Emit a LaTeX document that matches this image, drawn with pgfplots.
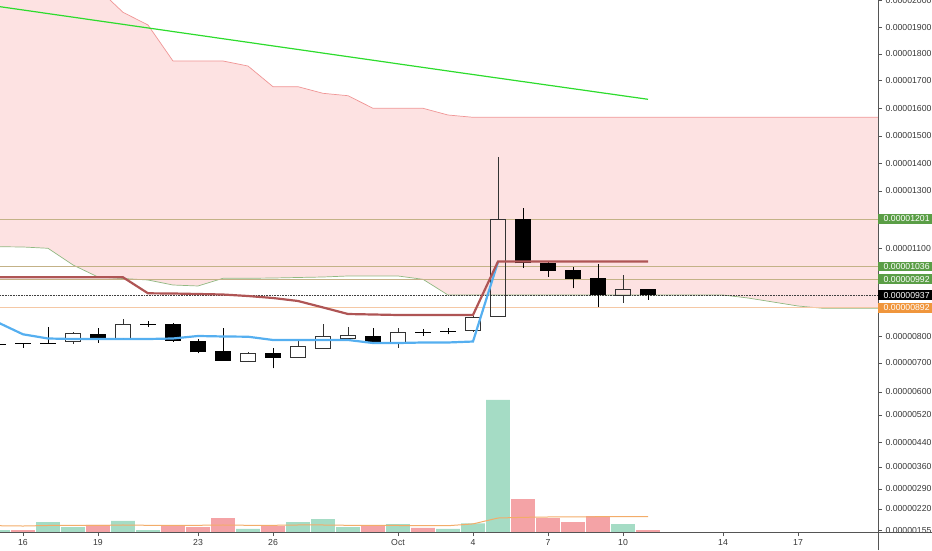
\documentclass[border=0pt]{standalone}
\usepackage{fontspec}
\setmainfont{Liberation Sans}
\usepackage{pgfplots}
\usepackage{pgfplotstable}
\pgfplotsset{compat=1.18}

\definecolor{cloud}{RGB}{253,226,226}
\definecolor{spanb}{RGB}{240,150,150}
\definecolor{spana}{RGB}{145,185,130}
\definecolor{hline}{RGB}{195,178,135}
\definecolor{orline}{RGB}{245,200,165}
\definecolor{maline}{RGB}{45,220,45}
\definecolor{tenkan}{RGB}{85,175,240}
\definecolor{kijun}{RGB}{175,85,85}
\definecolor{volg}{RGB}{165,220,197}
\definecolor{volr}{RGB}{244,163,166}
\definecolor{volma}{RGB}{243,172,105}
\definecolor{lblgreen}{RGB}{90,158,70}
\definecolor{lblorange}{RGB}{240,150,60}
\definecolor{axisgray}{RGB}{85,85,85}
\definecolor{txtgray}{RGB}{55,55,55}

% Ichimoku cloud: leading span B and leading span A
\pgfplotstableread{
X B A
15 2200 1104.8
16 2180 1103.8
17 2150 1099.3
18 2100 1041.3
19 2001 999.6
20 1918.7 994.4
21 1874.6 989.2
22 1749.6 971.8
23 1749.6 968.4
24 1749.6 995.1
25 1732.2 995.1
26 1660.4 996.1
27 1660.4 997.9
28 1637.4 999.6
29 1629.1 1003.1
30 1585.4 1003.1
31 1585.4 1003.1
32 1585.4 991.6
33 1562.1 937.1
34 1554.1 937.1
35 1554.1 937.1
36 1554.1 937.1
37 1554.1 937.1
38 1554.1 937.1
39 1554.1 937.1
40 1554.1 937.1
41 1554.1 937.1
42 1554.1 937.1
43 1554.1 937.1
44 1554.1 937.1
45 1554.1 926.7
46 1554.1 912.8
47 1554.1 898.9
48 1554.1 890.9
49 1554.1 890.9
50 1554.1 890.9
51 1554.1 890.9
}\cloudtab

% down candles
\pgfplotstableread{
X open high low close
15 767.7 772.2 761.8 766.3
16 770.0 771.1 753.1 768.6
17 772.0 827.0 767.0 770.6
19 800.6 821.5 771.5 786.7
21 837.2 847.9 827.0 835.6
22 836.4 838.8 775.0 778.4
23 778.4 784.3 734.7 738.1
24 742.6 821.5 708.0 708.0
26 734.7 752.0 682.6 719.4
30 794.8 821.5 769.4 769.4
32 807.0 817.9 794.8 805.6
33 810.5 821.5 800.6 809.0
36 1201 1238.1 1032.0 1047.0
37 1049.2 1055.2 1000.7 1020.4
38 1024.1 1036 960.4 992
39 995.1 1043.7 895 937.5
41 958.0 958.0 919.8 937
}\bears

% up candles (hollow)
\pgfplotstableread{
X open high low close
18 775.0 809.7 767.0 804.1
20 786.7 852.7 786.7 835.4
25 708.0 740.2 708.0 734.7
27 719.4 780.9 719.4 757.6
28 752.0 835.4 752.0 792.3
29 786.7 827.0 786.7 795.8
31 769.4 823.6 754.1 807.6
34 813.3 864.2 812.3 859.8
35 861.8 1417.3 861.8 1201
40 937.5 1006.6 910.4 957.0
}\bulls

\tikzset{
  lbl/.style={anchor=west, text=white, inner xsep=5.5pt, inner ysep=0pt,
     minimum height=9.6pt, font=\fontsize{8.7}{10}\selectfont},
}
\pgfplotsset{
  seg/.style={only marks, mark=none, mark size=0pt, mark options={draw=none, fill=none},
     error bars/.cd, y dir=plus, y explicit, error mark=none, error bar style={#1}},
  hseg/.style={only marks, mark=none, mark size=0pt, mark options={draw=none, fill=none},
     error bars/.cd, x dir=both, x explicit, error mark=none, error bar style={#1}},
}

\begin{document}
\begin{tikzpicture}
% ---------------- volume pane ----------------
\begin{axis}[
  at={(0pt,18pt)}, anchor=south west,
  scale only axis, width=878pt, height=532pt,
  xmin=15.08, xmax=50.2, ymin=148.39, ymax=1864.5,
  axis x line*=bottom, axis y line*=right,
  axis line style={draw=none,-},
  xtick=\empty,
  ytick={525.8,438.7,358.1,287.1,222.6,154.8},
  yticklabels={0.00000520,0.00000440,0.00000360,0.00000290,0.00000220,0.00000155},
  tick align=outside, major tick length=4pt,
  tick style={axisgray, line width=0.7pt},
  ticklabel style={font=\fontsize{8.7}{10}\selectfont, text=txtgray},
]
\addplot[ybar, bar shift=0pt, bar width=0.95, fill=volg, draw=none] coordinates {
(15,154.8) (17,180.6) (18,164.5) (20,183.9) (21,154.8) (25,158.1) (27,180.6)
(28,190.3) (29,164.5) (31,174.2) (33,158.5) (34,176.4) (35,574.2) (40,174.2)};
\addplot[ybar, bar shift=0pt, bar width=0.95, fill=volr, draw=none] coordinates {
(16,154.8) (19,171) (22,167.7) (23,164.5) (24,193.5) (26,167.7) (30,167.7)
(32,162) (36,254.8) (37,193.5) (38,180.6) (39,200) (41,154.2)};
\addplot[volma, line width=1pt] coordinates {
(15,168.7) (16,167.7) (17,169.4) (18,169.4) (19,169.4) (20,171) (21,170)
(22,169.4) (23,170) (24,171) (25,170) (26,170) (27,171) (28,171) (29,170)
(30,169.4) (31,169.4) (32,168.7) (33,168.7) (34,174.5) (35,193.5) (36,195.7)
(37,196.8) (38,196.8) (39,197.7) (40,197.7) (41,197.7)};
\end{axis}

% ---------------- price pane ----------------
\begin{axis}[
  at={(0pt,18pt)}, anchor=south west,
  scale only axis, width=878pt, height=532pt,
  xmin=15.08, xmax=50.2, ymin=114.2, ymax=1961.4,
  axis x line*=bottom, axis y line*=right,
  axis line style={draw=none,-},
  xtick={16,19,23,26,31,34,37,40,44,47},
  xticklabels={16,19,23,26,Oct,4,7,10,14,17},
  ytick={1961.3,1866.6,1773.9,1681.2,1585.4,1489.2,1394.4,1298.2,1099.2,792.3,701.0,600.3},
  yticklabels={0.00002000,0.00001900,0.00001800,0.00001700,0.00001600,0.00001500,
    0.00001400,0.00001300,0.00001100,0.00000800,0.00000700,0.00000600},
  tick align=outside, major tick length=4pt,
  tick style={axisgray, line width=0.7pt},
  ticklabel style={font=\fontsize{8.7}{10}\selectfont, text=txtgray},
]
% Ichimoku cloud fill (span B forward, span A backward)
\addplot[fill=cloud, draw=none] coordinates {
(15,2200) (16,2180) (17,2150) (18,2100) (19,2001) (20,1918.7) (21,1874.6)
(22,1749.6) (23,1749.6) (24,1749.6) (25,1732.2) (26,1660.4) (27,1660.4)
(28,1637.4) (29,1629.1) (30,1585.4) (31,1585.4) (32,1585.4) (33,1562.1)
(34,1554.1) (51,1554.1)
(51,890.9) (48,890.9) (47,898.9) (46,912.8) (45,926.7) (44,937.1) (33,937.1)
(32,991.6) (31,1003.1) (29,1003.1) (28,999.6) (27,997.9) (26,996.1) (25,995.1)
(24,995.1) (23,968.4) (22,971.8) (21,989.2) (20,994.4) (19,999.6) (18,1041.3)
(17,1099.3) (16,1103.8) (15,1104.8)};
\addplot[spanb, line width=0.7pt] table[x=X, y=B] {\cloudtab};
\addplot[spana, line width=0.7pt] table[x=X, y=A] {\cloudtab};

% horizontal price lines
\addplot[hline, line width=0.8pt] coordinates {(15.08,1201) (50.2,1201)};
\addplot[hline, line width=0.8pt] coordinates {(15.08,1036) (50.2,1036)};
\addplot[hline, line width=0.8pt] coordinates {(15.08,992) (50.2,992)};
\addplot[orline, line width=1pt] coordinates {(15.08,892) (50.2,892)};
\addplot[black!75, line width=0.8pt, dash pattern=on 0.8pt off 0.8pt] coordinates {(15.08,937) (50.2,937)};

% down candles: wick and filled body
\addplot[seg={line width=0.75pt, black}] table[x=X, y=low,
   y error plus expr=\thisrow{high}-\thisrow{low}] {\bears};
\addplot[seg={line width=15.5pt, black}] table[x=X, y=close,
   y error plus expr=\thisrow{open}-\thisrow{close}] {\bears};
% up candles: wicks outside the hollow body, and body outline
\addplot[seg={line width=0.75pt, black!80}] table[x=X, y=low,
   y error plus expr=\thisrow{open}-\thisrow{low}] {\bulls};
\addplot[seg={line width=0.75pt, black!80}] table[x=X, y=close,
   y error plus expr=\thisrow{high}-\thisrow{close}] {\bulls};
\addplot[seg={line width=0.75pt, black!80}] table[x expr=\thisrow{X}-0.3, y=open,
   y error plus expr=\thisrow{close}-\thisrow{open}] {\bulls};
\addplot[seg={line width=0.75pt, black!80}] table[x expr=\thisrow{X}+0.3, y=open,
   y error plus expr=\thisrow{close}-\thisrow{open}] {\bulls};
\addplot[hseg={line width=0.75pt, black!80}] table[x=X, y=open,
   x error expr=0.315] {\bulls};
\addplot[hseg={line width=0.75pt, black!80}] table[x=X, y=close,
   x error expr=0.315] {\bulls};

% long moving average
\addplot[maline, line width=1.2pt] coordinates {(15,1939.2) (26,1802.0) (33,1714.9) (41,1616.6)};
% conversion line
\addplot[tenkan, line width=2.2pt] coordinates {
(15,841.6) (16,800.6) (17,786.1) (18,784.3) (19,784.3) (20,784.3) (21,784.3)
(22,786.1) (23,794.8) (24,793.1) (25,792.3) (26,780.9) (27,780.9) (28,780.9)
(29,780.9) (30,770.4) (31,770.4) (32,772.2) (33,772.2) (34,775.6) (35,1051.7)};
% base line
\addplot[kijun, line width=2.2pt] coordinates {
(15,998.6) (16,998.6) (17,998.6) (18,998.6) (19,998.6) (20,998.6) (21,943.0)
(22,942.3) (23,940.6) (24,938.8) (25,933.6) (26,926.7) (27,916.3) (28,893.9)
(29,871.1) (30,869.4) (31,867.7) (32,867.7) (33,867.7) (34,867.7) (35,1053.4)
(36,1053.4) (37,1053.4) (38,1053.4) (39,1053.4) (40,1053.4) (41,1053.4)};

\coordinate (c1201) at (axis cs:50.2,1201);
\coordinate (c1036) at (axis cs:50.2,1036);
\coordinate (c992) at (axis cs:50.2,992);
\coordinate (c937) at (axis cs:50.2,937);
\coordinate (c892) at (axis cs:50.2,892);
\end{axis}

\draw[axisgray, line width=0.8pt] (878pt,0pt) -- (878pt,550pt);
\draw[axisgray, line width=0.8pt] (0pt,18pt) -- (932pt,18pt);

\node[lbl, fill=lblgreen] at (c1201) {0.00001201};
\node[lbl, fill=lblgreen] at (c1036) {0.00001036};
\node[lbl, fill=lblgreen] at (c992) {0.00000992};
\node[lbl, fill=black] at (c937) {0.00000937};
\node[lbl, fill=lblorange] at (c892) {0.00000892};

\pgfresetboundingbox
\useasboundingbox (0pt,0pt) rectangle (932pt,550pt);
\end{tikzpicture}
\end{document}
